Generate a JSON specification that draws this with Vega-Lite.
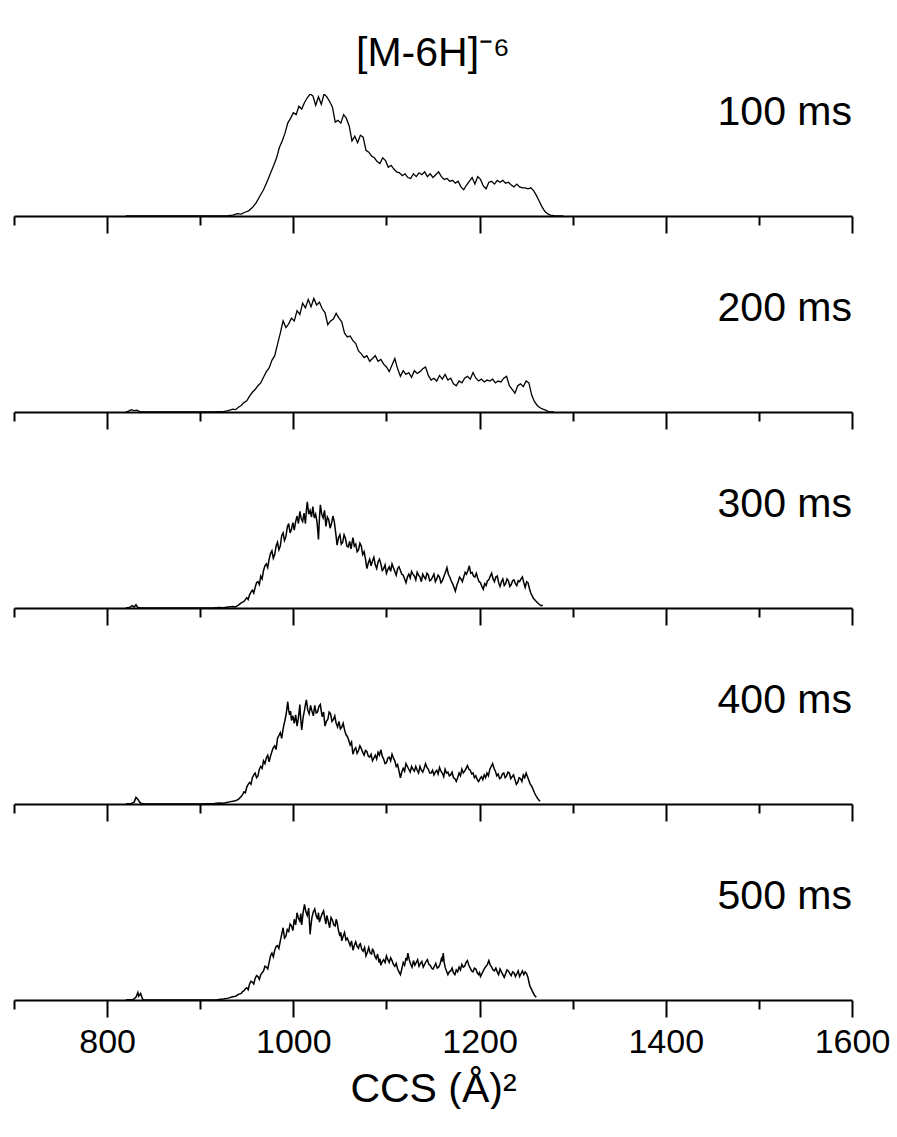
{
  "$schema": "https://vega.github.io/schema/vega-lite/v6.json",
  "padding": {"left": 13, "top": 32, "right": 0, "bottom": 0},
  "bounds": "flush",
  "spacing": 74,
  "title": {"text": "[M-6H]⁻⁶", "anchor": "middle", "frame": "group", "fontSize": 41, "font": "Liberation Sans", "fontWeight": "normal", "color": "black", "offset": 17},
  "config": {
    "view": {"stroke": null},
    "font": "Liberation Sans",
    "axis": {"domainColor": "black", "domainWidth": 2, "tickColor": "black", "tickWidth": 2, "labelFont": "Liberation Sans", "labelFontSize": 34, "labelColor": "black", "titleFont": "Liberation Sans", "titleFontSize": 41, "titleFontWeight": "normal", "titleColor": "black", "grid": false}
  },
  "datasets": {
    "p1": [{"x":820,"y":0},{"x":900,"y":0},{"x":925,"y":0},{"x":930,"y":0.3},{"x":935,"y":1},{"x":940,"y":2.5},{"x":944,"y":2},{"x":948,"y":4},{"x":952,"y":5.5},{"x":956,"y":9},{"x":960,"y":14},{"x":964,"y":21},{"x":968,"y":28},{"x":972,"y":37},{"x":976,"y":47},{"x":979,"y":54},{"x":982,"y":62},{"x":985,"y":73},{"x":988,"y":80},{"x":991,"y":88},{"x":994,"y":99},{"x":997,"y":104},{"x":1000,"y":110},{"x":1003,"y":108},{"x":1006,"y":117},{"x":1009,"y":114},{"x":1012,"y":121},{"x":1015,"y":126},{"x":1018,"y":130},{"x":1021,"y":128},{"x":1024,"y":118},{"x":1027,"y":127},{"x":1030,"y":119},{"x":1033,"y":130},{"x":1036,"y":127},{"x":1039,"y":122},{"x":1042,"y":116},{"x":1045,"y":100},{"x":1048,"y":102},{"x":1051,"y":99},{"x":1054,"y":108},{"x":1057,"y":104},{"x":1060,"y":96},{"x":1063,"y":80},{"x":1066,"y":85},{"x":1069,"y":78},{"x":1072,"y":86},{"x":1075,"y":84},{"x":1078,"y":70},{"x":1081,"y":68},{"x":1084,"y":64},{"x":1087,"y":62},{"x":1090,"y":58},{"x":1093,"y":56},{"x":1096,"y":62},{"x":1099,"y":59},{"x":1102,"y":52},{"x":1105,"y":54},{"x":1108,"y":50},{"x":1111,"y":47},{"x":1114,"y":46},{"x":1117,"y":43},{"x":1120,"y":45},{"x":1123,"y":41},{"x":1126,"y":40},{"x":1129,"y":45},{"x":1132,"y":42},{"x":1135,"y":46},{"x":1138,"y":44},{"x":1141,"y":47},{"x":1144,"y":42},{"x":1147,"y":45},{"x":1150,"y":41},{"x":1153,"y":44},{"x":1156,"y":47},{"x":1159,"y":42},{"x":1162,"y":39},{"x":1165,"y":40},{"x":1168,"y":37},{"x":1171,"y":38},{"x":1174,"y":35},{"x":1177,"y":37},{"x":1180,"y":31},{"x":1183,"y":28},{"x":1186,"y":33},{"x":1189,"y":37},{"x":1192,"y":41},{"x":1195,"y":34},{"x":1198,"y":42},{"x":1201,"y":39},{"x":1204,"y":32},{"x":1207,"y":29},{"x":1210,"y":36},{"x":1213,"y":37},{"x":1216,"y":34},{"x":1219,"y":38},{"x":1222,"y":36},{"x":1225,"y":38},{"x":1228,"y":35},{"x":1231,"y":36},{"x":1234,"y":33},{"x":1237,"y":31},{"x":1240,"y":34},{"x":1243,"y":31},{"x":1246,"y":30},{"x":1249,"y":30},{"x":1252,"y":29},{"x":1255,"y":30},{"x":1258,"y":27},{"x":1261,"y":22},{"x":1264,"y":16},{"x":1267,"y":10},{"x":1270,"y":5},{"x":1273,"y":2.5},{"x":1276,"y":1},{"x":1280,"y":0.5},{"x":1285,"y":0.2},{"x":1290,"y":0}],
    "p2": [{"x":820,"y":0},{"x":823,"y":1},{"x":826,"y":2.5},{"x":829,"y":1.5},{"x":832,"y":2},{"x":835,"y":0.5},{"x":840,"y":0},{"x":900,"y":0},{"x":915,"y":0},{"x":920,"y":0.5},{"x":925,"y":0.3},{"x":930,"y":1.5},{"x":935,"y":3},{"x":938,"y":2.5},{"x":941,"y":5},{"x":944,"y":7},{"x":947,"y":10},{"x":950,"y":12},{"x":953,"y":17},{"x":956,"y":21},{"x":959,"y":24},{"x":962,"y":28},{"x":965,"y":31},{"x":968,"y":37},{"x":971,"y":43},{"x":974,"y":47},{"x":977,"y":55},{"x":980,"y":60},{"x":983,"y":72},{"x":986,"y":84},{"x":989,"y":97},{"x":992,"y":90},{"x":995,"y":94},{"x":998,"y":100},{"x":1001,"y":97},{"x":1004,"y":108},{"x":1007,"y":104},{"x":1010,"y":116},{"x":1013,"y":111},{"x":1016,"y":120},{"x":1019,"y":112},{"x":1022,"y":121},{"x":1025,"y":114},{"x":1028,"y":117},{"x":1031,"y":110},{"x":1034,"y":106},{"x":1037,"y":93},{"x":1040,"y":97},{"x":1043,"y":99},{"x":1046,"y":105},{"x":1049,"y":100},{"x":1052,"y":96},{"x":1055,"y":84},{"x":1058,"y":80},{"x":1061,"y":81},{"x":1064,"y":76},{"x":1067,"y":73},{"x":1070,"y":65},{"x":1073,"y":62},{"x":1076,"y":58},{"x":1079,"y":60},{"x":1082,"y":54},{"x":1085,"y":57},{"x":1088,"y":60},{"x":1091,"y":54},{"x":1094,"y":56},{"x":1097,"y":51},{"x":1100,"y":48},{"x":1103,"y":43},{"x":1106,"y":50},{"x":1109,"y":57},{"x":1112,"y":46},{"x":1115,"y":38},{"x":1118,"y":44},{"x":1121,"y":40},{"x":1124,"y":42},{"x":1127,"y":37},{"x":1130,"y":44},{"x":1133,"y":41},{"x":1136,"y":43},{"x":1139,"y":46},{"x":1142,"y":48},{"x":1145,"y":39},{"x":1148,"y":34},{"x":1151,"y":36},{"x":1154,"y":33},{"x":1157,"y":39},{"x":1160,"y":35},{"x":1163,"y":40},{"x":1166,"y":34},{"x":1169,"y":36},{"x":1172,"y":30},{"x":1175,"y":28},{"x":1178,"y":33},{"x":1181,"y":31},{"x":1184,"y":36},{"x":1187,"y":38},{"x":1190,"y":35},{"x":1193,"y":42},{"x":1196,"y":36},{"x":1199,"y":33},{"x":1202,"y":35},{"x":1205,"y":32},{"x":1208,"y":34},{"x":1211,"y":33},{"x":1214,"y":35},{"x":1217,"y":31},{"x":1220,"y":33},{"x":1223,"y":32},{"x":1226,"y":36},{"x":1229,"y":38},{"x":1232,"y":28},{"x":1235,"y":24},{"x":1238,"y":20},{"x":1241,"y":28},{"x":1244,"y":30},{"x":1247,"y":27},{"x":1250,"y":33},{"x":1253,"y":31},{"x":1256,"y":18},{"x":1259,"y":11},{"x":1262,"y":7},{"x":1265,"y":4.5},{"x":1268,"y":3},{"x":1271,"y":2},{"x":1274,"y":0.5},{"x":1280,"y":0}],
    "p3": [{"x":820,"y":0},{"x":824,"y":0.5},{"x":827,"y":2.5},{"x":829,"y":1},{"x":831,"y":3.5},{"x":833,"y":0.5},{"x":836,"y":0},{"x":900,"y":0},{"x":914,"y":0},{"x":920,"y":0.5},{"x":925,"y":0.3},{"x":930,"y":1},{"x":935,"y":1.7},{"x":938,"y":1.2},{"x":941,"y":3},{"x":944,"y":5.5},{"x":947,"y":7},{"x":950,"y":11},{"x":951.5,"y":9},{"x":953,"y":14},{"x":954.5,"y":17},{"x":956,"y":19},{"x":957.5,"y":16},{"x":959,"y":22},{"x":960.5,"y":27},{"x":962,"y":28},{"x":963.5,"y":25},{"x":965,"y":34},{"x":966.5,"y":31},{"x":968,"y":40},{"x":969.5,"y":45},{"x":971,"y":47},{"x":972.5,"y":43},{"x":974,"y":52},{"x":975.5,"y":58},{"x":977,"y":61},{"x":978.5,"y":53},{"x":980,"y":57},{"x":981.5,"y":66},{"x":983,"y":70},{"x":984.5,"y":62},{"x":986,"y":66},{"x":987.5,"y":77},{"x":989,"y":80},{"x":990.5,"y":72},{"x":992,"y":76},{"x":993.5,"y":86},{"x":995,"y":90},{"x":996.5,"y":80},{"x":998,"y":84},{"x":999.5,"y":91},{"x":1001,"y":83},{"x":1002.5,"y":92},{"x":1004,"y":98},{"x":1005.5,"y":90},{"x":1007,"y":103},{"x":1008.5,"y":95},{"x":1010,"y":92},{"x":1011.5,"y":101},{"x":1013,"y":90},{"x":1014,"y":104},{"x":1015,"y":113},{"x":1016.5,"y":100},{"x":1018,"y":104},{"x":1019.5,"y":97},{"x":1021,"y":108},{"x":1022.5,"y":96},{"x":1024,"y":100},{"x":1025.5,"y":91},{"x":1027,"y":73},{"x":1028,"y":95},{"x":1029,"y":110},{"x":1030.5,"y":100},{"x":1032,"y":96},{"x":1033.5,"y":104},{"x":1035,"y":87},{"x":1036.5,"y":97},{"x":1038,"y":94},{"x":1039.5,"y":85},{"x":1041,"y":90},{"x":1042.5,"y":98},{"x":1044,"y":92},{"x":1045.5,"y":80},{"x":1047,"y":67},{"x":1048.5,"y":75},{"x":1050,"y":78},{"x":1051.5,"y":68},{"x":1053,"y":70},{"x":1054.5,"y":78},{"x":1056,"y":74},{"x":1057.5,"y":66},{"x":1059,"y":65},{"x":1060.5,"y":71},{"x":1062,"y":63},{"x":1063,"y":69},{"x":1064,"y":75},{"x":1065.5,"y":66},{"x":1067,"y":68},{"x":1068.5,"y":60},{"x":1070,"y":62},{"x":1071.5,"y":69},{"x":1073,"y":66},{"x":1074.5,"y":57},{"x":1076,"y":60},{"x":1077.5,"y":52},{"x":1079,"y":42},{"x":1080.5,"y":48},{"x":1082,"y":52},{"x":1083.5,"y":45},{"x":1085,"y":50},{"x":1086.5,"y":54},{"x":1088,"y":46},{"x":1089.5,"y":42},{"x":1091,"y":49},{"x":1092.5,"y":52},{"x":1094,"y":47},{"x":1095.5,"y":40},{"x":1097,"y":42},{"x":1098.5,"y":46},{"x":1100,"y":37},{"x":1101.5,"y":41},{"x":1103,"y":44},{"x":1104.5,"y":39},{"x":1106,"y":47},{"x":1107.5,"y":43},{"x":1109,"y":39},{"x":1110.5,"y":35},{"x":1112,"y":42},{"x":1113.5,"y":44},{"x":1115,"y":40},{"x":1116.5,"y":36},{"x":1118,"y":35},{"x":1119.5,"y":31},{"x":1121,"y":27},{"x":1122.5,"y":33},{"x":1124,"y":36},{"x":1125.5,"y":32},{"x":1127,"y":39},{"x":1128.5,"y":36},{"x":1130,"y":34},{"x":1131.5,"y":30},{"x":1133,"y":38},{"x":1134.5,"y":35},{"x":1136,"y":33},{"x":1137.5,"y":28},{"x":1139,"y":36},{"x":1140.5,"y":33},{"x":1142,"y":31},{"x":1143.5,"y":37},{"x":1145,"y":35},{"x":1146.5,"y":29},{"x":1148,"y":30},{"x":1149.5,"y":33},{"x":1151,"y":36},{"x":1152.5,"y":28},{"x":1154,"y":31},{"x":1155.5,"y":35},{"x":1157,"y":33},{"x":1158.5,"y":27},{"x":1160,"y":29},{"x":1161.5,"y":33},{"x":1163,"y":37},{"x":1164,"y":40},{"x":1165,"y":43},{"x":1166.5,"y":36},{"x":1168,"y":33},{"x":1169.5,"y":29},{"x":1171,"y":26},{"x":1172.5,"y":22},{"x":1174,"y":18},{"x":1175.5,"y":24},{"x":1177,"y":28},{"x":1178.5,"y":33},{"x":1180,"y":31},{"x":1181.5,"y":28},{"x":1183,"y":33},{"x":1184.5,"y":38},{"x":1186,"y":36},{"x":1187.5,"y":40},{"x":1189,"y":45},{"x":1190.5,"y":37},{"x":1192,"y":38},{"x":1193.5,"y":34},{"x":1195,"y":33},{"x":1196.5,"y":37},{"x":1198,"y":32},{"x":1199.5,"y":28},{"x":1201,"y":27},{"x":1202.5,"y":23},{"x":1204,"y":20},{"x":1205.5,"y":26},{"x":1207,"y":24},{"x":1208.5,"y":29},{"x":1210,"y":30},{"x":1211.5,"y":34},{"x":1213,"y":37},{"x":1214.5,"y":31},{"x":1216,"y":28},{"x":1217.5,"y":33},{"x":1219,"y":34},{"x":1220.5,"y":27},{"x":1222,"y":23},{"x":1223.5,"y":28},{"x":1225,"y":31},{"x":1226.5,"y":24},{"x":1228,"y":26},{"x":1229.5,"y":31},{"x":1231,"y":29},{"x":1232.5,"y":23},{"x":1234,"y":25},{"x":1235.5,"y":29},{"x":1237,"y":30},{"x":1238.5,"y":26},{"x":1240,"y":24},{"x":1241.5,"y":29},{"x":1243,"y":28},{"x":1244.5,"y":31},{"x":1246,"y":33},{"x":1247.5,"y":27},{"x":1249,"y":22},{"x":1250.5,"y":28},{"x":1252,"y":27},{"x":1253.5,"y":21},{"x":1255,"y":16},{"x":1258,"y":10},{"x":1261,"y":7},{"x":1264,"y":4},{"x":1266,"y":2.5},{"x":1268,"y":3}],
    "p4": [{"x":820,"y":0},{"x":826,"y":0.5},{"x":829,"y":2},{"x":831,"y":7},{"x":833,"y":5},{"x":835,"y":2},{"x":837,"y":0.5},{"x":840,"y":0},{"x":900,"y":0},{"x":915,"y":0.5},{"x":920,"y":1},{"x":925,"y":0.8},{"x":930,"y":2},{"x":935,"y":3},{"x":938,"y":3.5},{"x":941,"y":5},{"x":944,"y":8},{"x":945.5,"y":10},{"x":947,"y":13},{"x":948.5,"y":12},{"x":950,"y":18},{"x":951.5,"y":21},{"x":953,"y":23},{"x":954.5,"y":21},{"x":956,"y":28},{"x":957.5,"y":31},{"x":959,"y":33},{"x":960.5,"y":28},{"x":962,"y":30},{"x":963.5,"y":37},{"x":965,"y":40},{"x":966.5,"y":38},{"x":968,"y":46},{"x":969.5,"y":43},{"x":971,"y":49},{"x":972.5,"y":52},{"x":974,"y":45},{"x":975.5,"y":51},{"x":977,"y":56},{"x":978.5,"y":60},{"x":980,"y":62},{"x":981.5,"y":58},{"x":983,"y":70},{"x":984.5,"y":73},{"x":986,"y":76},{"x":987.5,"y":70},{"x":989,"y":80},{"x":990,"y":85},{"x":991,"y":89},{"x":992.5,"y":97},{"x":994,"y":109},{"x":995,"y":100},{"x":996,"y":95},{"x":997,"y":99},{"x":998,"y":89},{"x":999.5,"y":94},{"x":1001,"y":86},{"x":1002.5,"y":95},{"x":1004,"y":83},{"x":1005.5,"y":92},{"x":1007,"y":106},{"x":1008,"y":90},{"x":1009,"y":79},{"x":1010.5,"y":92},{"x":1012,"y":100},{"x":1013,"y":106},{"x":1014,"y":111},{"x":1015.5,"y":100},{"x":1017,"y":96},{"x":1018.5,"y":105},{"x":1020,"y":99},{"x":1021.5,"y":94},{"x":1023,"y":105},{"x":1024.5,"y":97},{"x":1026,"y":98},{"x":1027.5,"y":104},{"x":1029,"y":106},{"x":1030,"y":99},{"x":1031,"y":93},{"x":1032.5,"y":98},{"x":1034,"y":83},{"x":1035.5,"y":88},{"x":1037,"y":90},{"x":1038.5,"y":98},{"x":1040,"y":96},{"x":1041.5,"y":88},{"x":1043,"y":90},{"x":1044.5,"y":94},{"x":1046,"y":86},{"x":1047.5,"y":82},{"x":1049,"y":88},{"x":1050.5,"y":80},{"x":1052,"y":82},{"x":1053.5,"y":86},{"x":1055,"y":79},{"x":1056.5,"y":74},{"x":1058,"y":72},{"x":1059.5,"y":68},{"x":1061,"y":63},{"x":1062.5,"y":66},{"x":1064,"y":53},{"x":1065.5,"y":58},{"x":1067,"y":60},{"x":1068.5,"y":54},{"x":1070,"y":57},{"x":1071.5,"y":62},{"x":1073,"y":59},{"x":1074.5,"y":55},{"x":1076,"y":52},{"x":1077.5,"y":57},{"x":1079,"y":56},{"x":1080.5,"y":51},{"x":1082,"y":50},{"x":1083.5,"y":53},{"x":1085,"y":46},{"x":1086.5,"y":49},{"x":1088,"y":52},{"x":1089.5,"y":48},{"x":1091,"y":55},{"x":1092.5,"y":52},{"x":1094,"y":58},{"x":1095.5,"y":51},{"x":1097,"y":48},{"x":1098.5,"y":43},{"x":1100,"y":44},{"x":1101.5,"y":49},{"x":1103,"y":50},{"x":1104.5,"y":46},{"x":1106,"y":53},{"x":1107.5,"y":49},{"x":1109,"y":46},{"x":1110.5,"y":40},{"x":1112,"y":42},{"x":1113.5,"y":35},{"x":1115,"y":28},{"x":1116.5,"y":34},{"x":1118,"y":38},{"x":1119.5,"y":35},{"x":1121,"y":43},{"x":1122.5,"y":40},{"x":1124,"y":37},{"x":1125.5,"y":34},{"x":1127,"y":40},{"x":1128.5,"y":37},{"x":1130,"y":35},{"x":1131.5,"y":40},{"x":1133,"y":36},{"x":1134.5,"y":33},{"x":1136,"y":40},{"x":1137.5,"y":36},{"x":1139,"y":34},{"x":1140.5,"y":38},{"x":1142,"y":43},{"x":1143.5,"y":39},{"x":1145,"y":37},{"x":1146.5,"y":33},{"x":1148,"y":33},{"x":1149.5,"y":36},{"x":1151,"y":31},{"x":1152.5,"y":34},{"x":1154,"y":36},{"x":1155.5,"y":32},{"x":1157,"y":39},{"x":1158.5,"y":35},{"x":1160,"y":33},{"x":1161.5,"y":29},{"x":1163,"y":37},{"x":1164.5,"y":33},{"x":1166,"y":34},{"x":1167.5,"y":30},{"x":1169,"y":31},{"x":1170.5,"y":34},{"x":1172,"y":28},{"x":1173.5,"y":27},{"x":1175,"y":24},{"x":1176.5,"y":28},{"x":1178,"y":33},{"x":1179.5,"y":30},{"x":1181,"y":37},{"x":1182.5,"y":33},{"x":1184,"y":35},{"x":1185.5,"y":38},{"x":1187,"y":41},{"x":1188.5,"y":37},{"x":1190,"y":36},{"x":1191.5,"y":32},{"x":1193,"y":33},{"x":1194.5,"y":28},{"x":1196,"y":30},{"x":1197.5,"y":26},{"x":1199,"y":24},{"x":1200.5,"y":27},{"x":1202,"y":29},{"x":1203.5,"y":26},{"x":1205,"y":31},{"x":1206.5,"y":28},{"x":1208,"y":33},{"x":1209.5,"y":30},{"x":1211,"y":37},{"x":1212.5,"y":40},{"x":1214,"y":43},{"x":1215.5,"y":38},{"x":1217,"y":35},{"x":1218.5,"y":30},{"x":1220,"y":32},{"x":1221.5,"y":27},{"x":1223,"y":28},{"x":1224.5,"y":32},{"x":1226,"y":33},{"x":1227.5,"y":28},{"x":1229,"y":30},{"x":1230.5,"y":34},{"x":1232,"y":33},{"x":1233.5,"y":27},{"x":1235,"y":29},{"x":1236.5,"y":31},{"x":1238,"y":26},{"x":1239.5,"y":21},{"x":1241,"y":23},{"x":1242.5,"y":28},{"x":1244,"y":27},{"x":1245.5,"y":24},{"x":1247,"y":31},{"x":1248.5,"y":28},{"x":1250,"y":33},{"x":1251.5,"y":29},{"x":1253,"y":25},{"x":1254.5,"y":21},{"x":1256,"y":19},{"x":1259,"y":12},{"x":1261,"y":8},{"x":1263,"y":5},{"x":1265,"y":3}],
    "p5": [{"x":820,"y":0},{"x":828,"y":0.5},{"x":831,"y":3},{"x":833,"y":8},{"x":834,"y":4},{"x":836,"y":7},{"x":838,"y":1},{"x":840,"y":0},{"x":900,"y":0},{"x":917,"y":0},{"x":920,"y":0.5},{"x":925,"y":1},{"x":930,"y":2},{"x":935,"y":3.5},{"x":938,"y":4},{"x":941,"y":6},{"x":944,"y":7},{"x":945.5,"y":9},{"x":947,"y":10},{"x":948.5,"y":12},{"x":950,"y":13},{"x":951.5,"y":11},{"x":953,"y":17},{"x":954.5,"y":20},{"x":956,"y":19},{"x":957.5,"y":17},{"x":959,"y":23},{"x":960.5,"y":26},{"x":962,"y":25},{"x":963.5,"y":22},{"x":965,"y":27},{"x":966.5,"y":29},{"x":968,"y":31},{"x":969.5,"y":36},{"x":971,"y":35},{"x":972.5,"y":33},{"x":974,"y":40},{"x":975.5,"y":47},{"x":977,"y":50},{"x":978.5,"y":46},{"x":980,"y":53},{"x":981.5,"y":57},{"x":983,"y":58},{"x":984.5,"y":55},{"x":986,"y":63},{"x":987.5,"y":70},{"x":989,"y":77},{"x":990.5,"y":66},{"x":992,"y":68},{"x":993.5,"y":75},{"x":995,"y":73},{"x":996.5,"y":81},{"x":998,"y":79},{"x":999.5,"y":74},{"x":1001,"y":86},{"x":1002.5,"y":80},{"x":1004,"y":93},{"x":1005.5,"y":87},{"x":1007,"y":84},{"x":1008,"y":92},{"x":1009,"y":80},{"x":1010.5,"y":93},{"x":1012,"y":102},{"x":1013.5,"y":94},{"x":1015,"y":90},{"x":1016.5,"y":98},{"x":1018,"y":70},{"x":1019,"y":80},{"x":1020,"y":88},{"x":1021.5,"y":94},{"x":1023,"y":97},{"x":1024.5,"y":90},{"x":1026,"y":86},{"x":1027,"y":93},{"x":1028,"y":83},{"x":1029.5,"y":88},{"x":1031,"y":92},{"x":1032.5,"y":95},{"x":1034,"y":86},{"x":1035,"y":81},{"x":1036,"y":90},{"x":1037.5,"y":84},{"x":1039,"y":77},{"x":1040.5,"y":88},{"x":1042,"y":85},{"x":1043.5,"y":80},{"x":1045,"y":79},{"x":1046,"y":86},{"x":1047,"y":83},{"x":1048.5,"y":74},{"x":1050,"y":68},{"x":1051,"y":72},{"x":1052,"y":63},{"x":1053.5,"y":68},{"x":1055,"y":72},{"x":1056.5,"y":64},{"x":1058,"y":66},{"x":1059.5,"y":62},{"x":1061,"y":58},{"x":1062.5,"y":63},{"x":1064,"y":53},{"x":1065.5,"y":58},{"x":1067,"y":62},{"x":1068.5,"y":57},{"x":1070,"y":55},{"x":1071,"y":59},{"x":1072,"y":60},{"x":1073.5,"y":54},{"x":1075,"y":52},{"x":1076.5,"y":56},{"x":1078,"y":47},{"x":1079.5,"y":51},{"x":1081,"y":56},{"x":1082.5,"y":50},{"x":1084,"y":49},{"x":1085,"y":54},{"x":1086,"y":53},{"x":1087.5,"y":47},{"x":1089,"y":44},{"x":1090.5,"y":49},{"x":1092,"y":40},{"x":1093,"y":44},{"x":1094,"y":37},{"x":1095.5,"y":41},{"x":1097,"y":43},{"x":1098.5,"y":40},{"x":1100,"y":47},{"x":1101.5,"y":43},{"x":1103,"y":40},{"x":1104.5,"y":45},{"x":1106,"y":42},{"x":1107.5,"y":38},{"x":1109,"y":36},{"x":1110.5,"y":39},{"x":1112,"y":33},{"x":1113.5,"y":30},{"x":1115,"y":27},{"x":1116.5,"y":33},{"x":1118,"y":40},{"x":1119.5,"y":37},{"x":1121,"y":45},{"x":1122,"y":42},{"x":1123,"y":50},{"x":1124.5,"y":43},{"x":1126,"y":38},{"x":1127.5,"y":35},{"x":1129,"y":42},{"x":1130.5,"y":37},{"x":1132,"y":40},{"x":1133.5,"y":43},{"x":1135,"y":36},{"x":1136.5,"y":39},{"x":1138,"y":41},{"x":1139.5,"y":35},{"x":1141,"y":38},{"x":1142.5,"y":41},{"x":1144,"y":43},{"x":1145.5,"y":38},{"x":1147,"y":37},{"x":1148.5,"y":34},{"x":1150,"y":33},{"x":1151.5,"y":36},{"x":1153,"y":39},{"x":1154.5,"y":34},{"x":1156,"y":35},{"x":1157.5,"y":38},{"x":1159,"y":44},{"x":1160,"y":41},{"x":1161,"y":50},{"x":1162,"y":40},{"x":1163,"y":35},{"x":1164.5,"y":31},{"x":1166,"y":27},{"x":1167.5,"y":30},{"x":1169,"y":31},{"x":1170.5,"y":34},{"x":1172,"y":29},{"x":1173.5,"y":27},{"x":1175,"y":32},{"x":1176.5,"y":30},{"x":1178,"y":35},{"x":1179.5,"y":32},{"x":1181,"y":38},{"x":1182.5,"y":35},{"x":1184,"y":36},{"x":1185.5,"y":40},{"x":1187,"y":42},{"x":1188.5,"y":37},{"x":1190,"y":34},{"x":1191.5,"y":31},{"x":1193,"y":30},{"x":1194.5,"y":34},{"x":1196,"y":33},{"x":1197.5,"y":29},{"x":1199,"y":27},{"x":1200,"y":29},{"x":1201,"y":25},{"x":1202.5,"y":28},{"x":1204,"y":31},{"x":1205.5,"y":34},{"x":1207,"y":36},{"x":1208.5,"y":38},{"x":1210,"y":42},{"x":1211.5,"y":37},{"x":1213,"y":35},{"x":1214.5,"y":32},{"x":1216,"y":31},{"x":1217.5,"y":34},{"x":1219,"y":30},{"x":1220.5,"y":27},{"x":1222,"y":33},{"x":1223.5,"y":30},{"x":1225,"y":27},{"x":1226.5,"y":24},{"x":1228,"y":28},{"x":1229.5,"y":32},{"x":1231,"y":31},{"x":1232.5,"y":28},{"x":1234,"y":26},{"x":1235.5,"y":30},{"x":1237,"y":29},{"x":1238.5,"y":25},{"x":1240,"y":28},{"x":1241.5,"y":31},{"x":1243,"y":25},{"x":1244.5,"y":28},{"x":1246,"y":31},{"x":1247.5,"y":27},{"x":1249,"y":30},{"x":1250.5,"y":28},{"x":1252,"y":24},{"x":1254,"y":15},{"x":1257,"y":9},{"x":1259,"y":5},{"x":1261,"y":3}]
  },
  "vconcat": [
    {"width": 838, "height": 122, "layer": [
      {"data": {"name": "p1"}, "mark": {"type": "line", "color": "black", "strokeWidth": 1.3, "clip": true},
       "encoding": {"x": {"field": "x", "type": "quantitative", "scale": {"domain": [700, 1600]}, "axis": {"values": [700,800,900,1000,1100,1200,1300,1400,1500,1600], "labels": false, "title": null, "tickSize": {"condition": {"test": "datum.value % 200 === 0", "value": 17}, "value": 9}}},
                    "y": {"field": "y", "type": "quantitative", "scale": {"domain": [0, 122]}, "axis": null}}},
      {"data": {"values": [{"label": "100 ms"}]}, "mark": {"type": "text", "align": "right", "baseline": "top", "fontSize": 41, "font": "Liberation Sans", "color": "black", "dy": -9},
       "encoding": {"x": {"datum": 1600}, "y": {"datum": 122}, "text": {"field": "label"}}}
    ]},
    {"width": 838, "height": 122, "layer": [
      {"data": {"name": "p2"}, "mark": {"type": "line", "color": "black", "strokeWidth": 1.3, "clip": true},
       "encoding": {"x": {"field": "x", "type": "quantitative", "scale": {"domain": [700, 1600]}, "axis": {"values": [700,800,900,1000,1100,1200,1300,1400,1500,1600], "labels": false, "title": null, "tickSize": {"condition": {"test": "datum.value % 200 === 0", "value": 17}, "value": 9}}},
                    "y": {"field": "y", "type": "quantitative", "scale": {"domain": [0, 122]}, "axis": null}}},
      {"data": {"values": [{"label": "200 ms"}]}, "mark": {"type": "text", "align": "right", "baseline": "top", "fontSize": 41, "font": "Liberation Sans", "color": "black", "dy": -9},
       "encoding": {"x": {"datum": 1600}, "y": {"datum": 122}, "text": {"field": "label"}}}
    ]},
    {"width": 838, "height": 122, "layer": [
      {"data": {"name": "p3"}, "mark": {"type": "line", "color": "black", "strokeWidth": 1.5, "clip": true},
       "encoding": {"x": {"field": "x", "type": "quantitative", "scale": {"domain": [700, 1600]}, "axis": {"values": [700,800,900,1000,1100,1200,1300,1400,1500,1600], "labels": false, "title": null, "tickSize": {"condition": {"test": "datum.value % 200 === 0", "value": 17}, "value": 9}}},
                    "y": {"field": "y", "type": "quantitative", "scale": {"domain": [0, 122]}, "axis": null}}},
      {"data": {"values": [{"label": "300 ms"}]}, "mark": {"type": "text", "align": "right", "baseline": "top", "fontSize": 41, "font": "Liberation Sans", "color": "black", "dy": -9},
       "encoding": {"x": {"datum": 1600}, "y": {"datum": 122}, "text": {"field": "label"}}}
    ]},
    {"width": 838, "height": 122, "layer": [
      {"data": {"name": "p4"}, "mark": {"type": "line", "color": "black", "strokeWidth": 1.5, "clip": true},
       "encoding": {"x": {"field": "x", "type": "quantitative", "scale": {"domain": [700, 1600]}, "axis": {"values": [700,800,900,1000,1100,1200,1300,1400,1500,1600], "labels": false, "title": null, "tickSize": {"condition": {"test": "datum.value % 200 === 0", "value": 17}, "value": 9}}},
                    "y": {"field": "y", "type": "quantitative", "scale": {"domain": [0, 122]}, "axis": null}}},
      {"data": {"values": [{"label": "400 ms"}]}, "mark": {"type": "text", "align": "right", "baseline": "top", "fontSize": 41, "font": "Liberation Sans", "color": "black", "dy": -9},
       "encoding": {"x": {"datum": 1600}, "y": {"datum": 122}, "text": {"field": "label"}}}
    ]},
    {"width": 838, "height": 122, "layer": [
      {"data": {"name": "p5"}, "mark": {"type": "line", "color": "black", "strokeWidth": 1.5, "clip": true},
       "encoding": {"x": {"field": "x", "type": "quantitative", "scale": {"domain": [700, 1600]}, "axis": {"values": [700,800,900,1000,1100,1200,1300,1400,1500,1600], "format": "d", "title": "CCS (Å)²", "titlePadding": 10, "labelPadding": 8, "labelFlush": false, "labelOverlap": false, "labelExpr": "datum.value % 200 === 0 ? datum.label : ''", "tickSize": {"condition": {"test": "datum.value % 200 === 0", "value": 17}, "value": 9}}},
                    "y": {"field": "y", "type": "quantitative", "scale": {"domain": [0, 122]}, "axis": null}}},
      {"data": {"values": [{"label": "500 ms"}]}, "mark": {"type": "text", "align": "right", "baseline": "top", "fontSize": 41, "font": "Liberation Sans", "color": "black", "dy": -9},
       "encoding": {"x": {"datum": 1600}, "y": {"datum": 122}, "text": {"field": "label"}}}
    ]}
  ]
}
